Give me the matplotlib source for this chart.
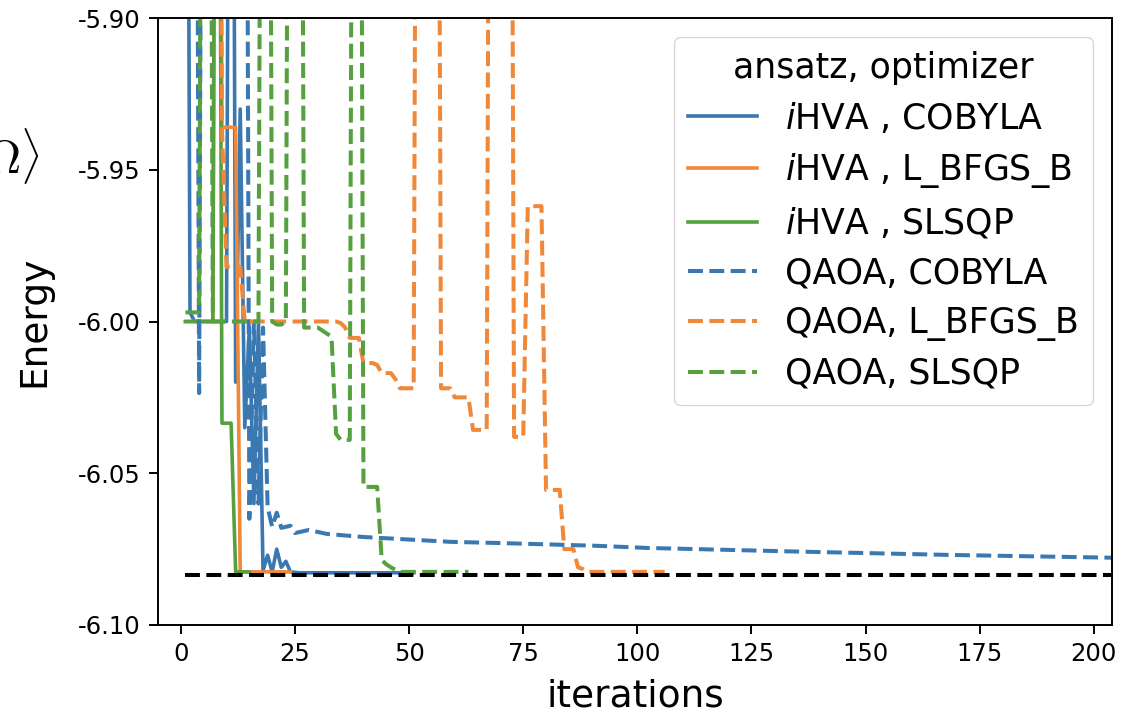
import matplotlib
matplotlib.use("Agg")
import matplotlib.pyplot as plt
from matplotlib.ticker import FormatStrFormatter

plt.rcParams['axes.unicode_minus'] = False

# off-chart values (above the visible range) are written as -5.6
ihva_cobyla_x = [1, 2, 3, 10, 11, 12, 13, 14, 15, 16, 17, 18, 19, 20, 21, 22, 23, 24, 26, 51]
ihva_cobyla_y = [-5.6, -5.997, -6.0, -6.0, -5.6, -6.02, -5.93, -6.035, -6.002, -6.06, -6.0,
                 -6.082, -6.077, -6.0825, -6.075, -6.081, -6.079, -6.0825, -6.0828, -6.0828]

ihva_lbfgsb_x = [1, 7, 8, 9, 12, 13, 24]
ihva_lbfgsb_y = [-6.0, -6.0, -5.6, -5.936, -5.936, -6.0825, -6.0825]

ihva_slsqp_x = [1, 7, 8, 9, 11, 12, 15]
ihva_slsqp_y = [-6.0, -6.0, -5.6, -6.0335, -6.0335, -6.0825, -6.0825]

qaoa_cobyla_x = [1, 3, 4, 5, 14, 15, 16, 17, 18, 19, 20, 21, 22, 24, 25, 28, 32, 40,
                 59, 70, 91, 102, 135, 168, 203, 220]
qaoa_cobyla_y = [-5.6, -5.6, -6.0236, -5.6, -5.6, -6.065, -6.0, -6.06, -6.002, -6.061,
                 -6.0677, -6.063, -6.068, -6.0673, -6.0697, -6.0687, -6.070, -6.071,
                 -6.0726, -6.073, -6.0739, -6.0746, -6.0758, -6.0769, -6.0778, -6.0781]

qaoa_lbfgsb_x = [1, 8, 9, 10, 13, 14, 34, 35, 36, 37, 39, 40, 42, 43, 44, 46, 47, 48, 51,
                 52, 56, 57, 59, 60, 63, 64, 67, 68, 72, 73, 75, 76, 79, 80, 83, 84, 86,
                 87, 88, 89, 106]
qaoa_lbfgsb_y = [-5.6, -5.6, -5.936, -5.982, -5.982, -6.0, -6.0, -6.0005, -6.002, -6.0054,
                 -6.0054, -6.0137, -6.0137, -6.0143, -6.017, -6.017, -6.019, -6.022, -6.022,
                 -5.6, -5.6, -6.022, -6.022, -6.025, -6.025, -6.0357, -6.0357, -5.6, -5.6,
                 -6.038, -6.038, -5.962, -5.962, -6.0555, -6.0555, -6.075, -6.075, -6.081,
                 -6.0815, -6.0825, -6.0825]

qaoa_slsqp_x = [1, 4, 5, 6, 7, 17, 18, 19, 20, 21, 22, 23, 24, 26, 27, 30, 31, 32, 33,
                34, 35, 37, 38, 39, 40, 43, 44, 45, 46, 47, 48, 63]
qaoa_slsqp_y = [-5.997, -5.997, -5.6, -5.6, -6.0, -6.0, -5.6, -5.6, -6.0, -6.001, -6.001,
                -6.0, -5.6, -5.6, -6.002, -6.002, -6.003, -6.004, -6.005, -6.037, -6.039,
                -6.039, -5.6, -5.6, -6.0545, -6.0545, -6.0786, -6.080, -6.081, -6.0818,
                -6.0825, -6.0825]

exact_x = [1, 260]
exact_y = [-6.0835, -6.0835]

labels = ['$i$HVA , COBYLA', '$i$HVA , L_BFGS_B', '$i$HVA , SLSQP',
          'QAOA, COBYLA', 'QAOA, L_BFGS_B', 'QAOA, SLSQP']

blue = '#3a78b1'
orange = '#f0883a'
green = '#56a040'

fig = plt.figure(figsize=(11.33, 7.12), dpi=100)
ax = fig.add_axes([0.1395, 0.1222, 0.842, 0.8525])

ax.plot(ihva_cobyla_x, ihva_cobyla_y, '-', color=blue, lw=2.6, label=labels[0])
ax.plot(ihva_lbfgsb_x, ihva_lbfgsb_y, '-', color=orange, lw=2.6, label=labels[1])
ax.plot(ihva_slsqp_x, ihva_slsqp_y, '-', color=green, lw=2.6, label=labels[2])
ax.plot(qaoa_cobyla_x, qaoa_cobyla_y, '--', color=blue, lw=2.9, label=labels[3])
ax.plot(qaoa_lbfgsb_x, qaoa_lbfgsb_y, '--', color=orange, lw=2.9, label=labels[4])
ax.plot(qaoa_slsqp_x, qaoa_slsqp_y, '--', color=green, lw=2.9, label=labels[5])
ax.plot(exact_x, exact_y, '--', color='black', lw=2.9)

ax.set_xlim(-5, 204)
ax.set_ylim(-6.10, -5.90)
ax.set_xticks([0, 25, 50, 75, 100, 125, 150, 175, 200])
ax.set_yticks([-6.10, -6.05, -6.00, -5.95, -5.90])
ax.yaxis.set_major_formatter(FormatStrFormatter('%.2f'))
ax.tick_params(labelsize=17.5, length=6.5, width=1.4, pad=6)
for s in ax.spines.values():
    s.set_linewidth(1.4)

ax.set_xlabel('iterations', fontsize=27, labelpad=9)
ax.set_ylabel('Energy', fontsize=27)
ax.yaxis.set_label_coords(-0.111, 0.5)

# partly clipped bra-ket text at the left edge
fig.text(39 / 1133, 1 - 157 / 712, r'$\langle \Omega | H | \Omega \rangle$', fontsize=33,
         ha='right', va='center', math_fontfamily='cm')

leg = ax.legend(title='ansatz, optimizer', fontsize=25, title_fontsize=25,
                loc='upper right', handlelength=2.0, labelspacing=0.45,
                borderaxespad=0.55)

fig.savefig('out.png', dpi=100)
